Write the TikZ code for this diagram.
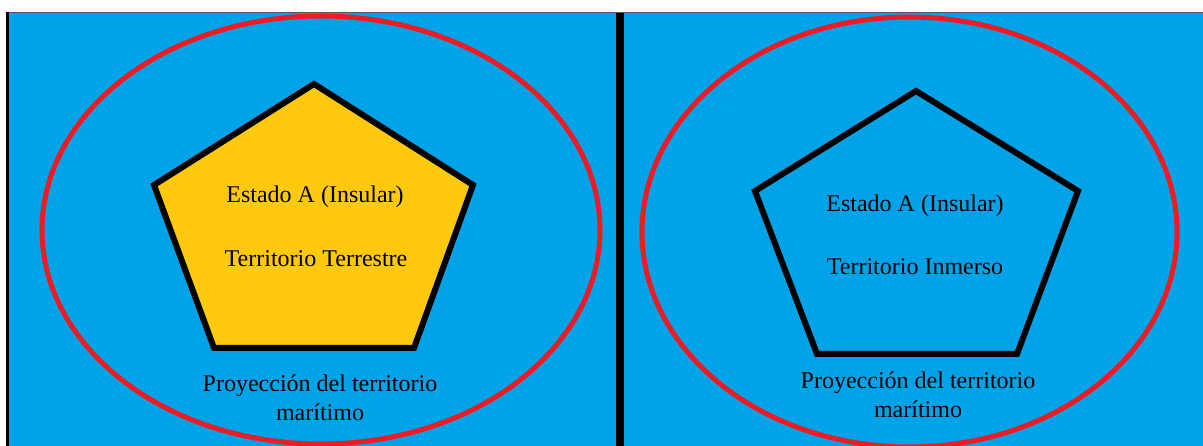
\documentclass[tikz,border=0pt]{standalone}
\usepackage{fontspec}
\setmainfont{Liberation Serif}
\definecolor{mar}{RGB}{0,162,232}
\definecolor{tierra}{RGB}{255,201,14}
\definecolor{borde}{RGB}{237,28,36}
\tikzset{
  txt/.style={font=\fontsize{24}{29}\selectfont,align=center,inner sep=0pt},
  orilla/.style={draw=borde,line width=5pt},
  isla/.style={draw=black,line width=6pt}
}
\begin{document}
\begin{tikzpicture}[x=1pt,y=-1pt]
  \useasboundingbox (0,0) rectangle (1203,446);
  \fill[mar] (8,13) rectangle (1203,446);
  \draw[gray!70!black,line width=1.5pt] (8,12.5) -- (1203,12.5);
  \draw[line width=2.5pt] (7.5,12) -- (7.5,446);
  \coordinate (sup) at (620,13);
  \coordinate (inf) at (620,446);
  \draw[line width=8pt] (sup) -- (inf);
  % izquierda
  \draw[orilla] (321,230) ellipse [x radius=279, y radius=214];
  \coordinate (a1) at (314,84);
  \coordinate (a2) at (154,185);
  \coordinate (a3) at (214,348);
  \coordinate (a4) at (414,348);
  \coordinate (a5) at (473,185);
  \filldraw[isla,fill=tierra] (a1)--(a2)--(a3)--(a4)--(a5)--cycle;
  \node[txt] (ea) at (315,197) {Estado A (Insular)};
  \node[txt] (tt) at (316,259) {Territorio Terrestre};
  \node[txt] (pa) at (320,398) {Proyección del territorio\\marítimo};
  % derecha
  \draw[orilla] (909.5,232) ellipse [x radius=267.5, y radius=215];
  \coordinate (b1) at (916,91);
  \coordinate (b2) at (755,191);
  \coordinate (b3) at (817,354);
  \coordinate (b4) at (1017,354);
  \coordinate (b5) at (1078,191);
  \draw[isla] (b1)--(b2)--(b3)--(b4)--(b5)--cycle;
  \node[txt] (eb) at (915,206) {Estado A (Insular)};
  \node[txt] (ti) at (915,267) {Territorio Inmerso};
  \node[txt] (pb) at (918,395) {Proyección del territorio\\marítimo};
\end{tikzpicture}
\end{document}
